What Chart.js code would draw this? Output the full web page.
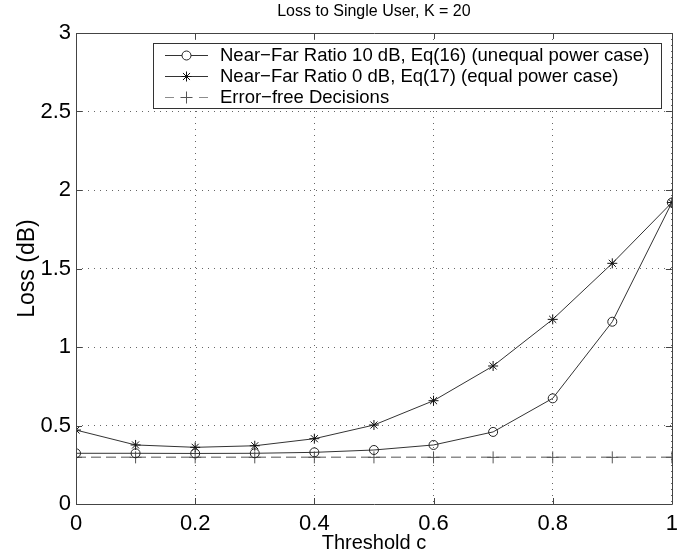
<!DOCTYPE html>
<html>
<head>
<meta charset="utf-8">
<script src="https://cdn.jsdelivr.net/npm/chart.js@4.4.0/dist/chart.umd.min.js"></script>
<style>
  html, body { margin: 0; padding: 0; background: #fff; }
  #wrap { width: 685px; height: 559px; }
</style>
</head>
<body>
<div id="wrap"><canvas id="lossChart" width="685" height="559"></canvas></div>
<script>
const thresholds = [0, 0.1, 0.2, 0.3, 0.4, 0.5, 0.6, 0.7, 0.8, 0.9, 1.0];
const lossUnequal = [0.323, 0.323, 0.322, 0.323, 0.329, 0.344, 0.376, 0.459, 0.673, 1.161, 1.92];
const lossEqual = [0.471, 0.376, 0.361, 0.371, 0.416, 0.503, 0.658, 0.879, 1.176, 1.533, 1.92];
const lossErrorFree = [0.297, 0.297, 0.297, 0.297, 0.297, 0.297, 0.297, 0.297, 0.297, 0.297, 0.297];

const xTicks = [0, 0.2, 0.4, 0.6, 0.8, 1];
const yTicks = [0, 0.5, 1, 1.5, 2, 2.5, 3];

const seriesNames = [
    'Near\u2212Far Ratio 10 dB, Eq(16) (unequal power case)',
    'Near\u2212Far Ratio 0 dB, Eq(17) (equal power case)',
    'Error\u2212free Decisions'
];
const chartTitle = 'Loss to Single User, K = 20';

const FONT = '"Liberation Sans", Arial, Helvetica, sans-serif';

const toPoints = ys => thresholds.map((x, i) => ({ x: x, y: ys[i] }));

// box around the axes, inward ticks, title and the boxed legend (matlab look)
const matlabFrame = {
    id: 'matlabFrame',
    afterDatasetsDraw(chart) {
        const { ctx, chartArea: a, scales } = chart;
        ctx.save();
        ctx.strokeStyle = '#444';
        ctx.lineWidth = 1;
        ctx.setLineDash([]);
        ctx.beginPath();
        ctx.rect(Math.round(a.left) + 0.5, Math.round(a.top) + 0.5,
                 Math.round(a.right - a.left), Math.round(a.bottom - a.top));
        ctx.stroke();
        const len = 6;
        ctx.beginPath();
        xTicks.forEach(v => {
            const px = Math.round(scales.x.getPixelForValue(v)) + 0.5;
            ctx.moveTo(px, a.bottom); ctx.lineTo(px, a.bottom - len);
            ctx.moveTo(px, a.top); ctx.lineTo(px, a.top + len);
        });
        yTicks.forEach(v => {
            const py = Math.round(scales.y.getPixelForValue(v)) + 0.5;
            ctx.moveTo(a.left, py); ctx.lineTo(a.left + len, py);
            ctx.moveTo(a.right, py); ctx.lineTo(a.right - len, py);
        });
        ctx.stroke();
        ctx.restore();
    },
    afterDraw(chart) {
        const { ctx, chartArea: a } = chart;
        ctx.save();
        // title
        ctx.fillStyle = '#000';
        ctx.font = '16px ' + FONT;
        ctx.textAlign = 'center';
        ctx.textBaseline = 'middle';
        ctx.fillText(chartTitle, (a.left + a.right) / 2, 12);

        // legend
        const bx = 153.5, by = 43.5, bw = 508, bh = 65;
        ctx.fillStyle = '#fff';
        ctx.fillRect(bx, by, bw, bh);
        ctx.strokeStyle = '#333';
        ctx.lineWidth = 1;
        ctx.strokeRect(bx, by, bw, bh);

        const rows = [55, 76, 97];
        const x0 = 165, x1 = 208, xm = 186.5;
        chart.data.datasets.forEach((ds, i) => {
            const y = rows[i] + 0.5;
            ctx.strokeStyle = ds.borderColor;
            ctx.lineWidth = 1;
            ctx.setLineDash([]);
            ctx.beginPath();
            if (ds.borderDash) {
                ctx.moveTo(x0, y); ctx.lineTo(x0 + 9, y);
                ctx.moveTo(x1 - 9, y); ctx.lineTo(x1, y);
            } else {
                ctx.moveTo(x0, y); ctx.lineTo(x1, y);
            }
            ctx.stroke();
            ctx.strokeStyle = ds.pointBorderColor;
            Chart.helpers.drawPoint(ctx, {
                pointStyle: ds.pointStyle,
                radius: ds.pointRadius,
                borderWidth: 1
            }, xm, y);
            ctx.fillStyle = '#000';
            ctx.font = '18.5px ' + FONT;
            ctx.textAlign = 'left';
            ctx.textBaseline = 'middle';
            ctx.fillText(seriesNames[i], 220, rows[i] + 1);
        });
        ctx.restore();
    }
};

const ctx = document.getElementById('lossChart').getContext('2d');

new Chart(ctx, {
    type: 'line',
    data: {
        datasets: [
            {
                label: seriesNames[0],
                data: toPoints(lossUnequal),
                borderColor: '#333',
                borderWidth: 1,
                pointStyle: 'circle',
                pointRadius: 4.5,
                pointBorderColor: '#222',
                pointBackgroundColor: 'rgba(0,0,0,0)',
                pointBorderWidth: 1,
                tension: 0
            },
            {
                label: seriesNames[1],
                data: toPoints(lossEqual),
                borderColor: '#333',
                borderWidth: 1,
                pointStyle: 'star',
                pointRadius: 5,
                pointBorderColor: '#111',
                pointBorderWidth: 1,
                tension: 0
            },
            {
                label: seriesNames[2],
                data: toPoints(lossErrorFree),
                borderColor: '#8c8c8c',
                borderWidth: 1.5,
                borderDash: [10, 5],
                pointStyle: 'cross',
                pointRadius: 6,
                pointBorderColor: '#555',
                pointBorderWidth: 1,
                tension: 0
            }
        ]
    },
    options: {
        responsive: false,
        animation: false,
        devicePixelRatio: 1,
        layout: { padding: { top: 33, right: 13, left: 0, bottom: 0 } },
        plugins: {
            legend: { display: false },
            title: { display: false },
            tooltip: { enabled: false }
        },
        scales: {
            x: {
                type: 'linear',
                min: 0,
                max: 1,
                afterBuildTicks: scale => { scale.ticks = xTicks.map(v => ({ value: v })); },
                afterFit: scale => { scale.height = 55; },
                grid: { color: '#666', lineWidth: 1, drawTicks: false },
                border: { display: false, dash: [1, 5] },
                ticks: {
                    color: '#000',
                    padding: 7,
                    font: { family: FONT, size: 22 },
                    maxRotation: 0,
                    callback: v => String(v)
                },
                title: {
                    display: true,
                    text: 'Threshold c',
                    color: '#000',
                    font: { family: FONT, size: 20 },
                    padding: { top: 0, bottom: 4 }
                }
            },
            y: {
                type: 'linear',
                min: 0,
                max: 3,
                afterBuildTicks: scale => { scale.ticks = yTicks.map(v => ({ value: v })); },
                afterFit: scale => { scale.width = 76; },
                grid: { color: '#666', lineWidth: 1, drawTicks: false },
                border: { display: false, dash: [1, 5] },
                ticks: {
                    color: '#000',
                    padding: 5,
                    font: { family: FONT, size: 22 },
                    callback: v => String(v)
                },
                title: {
                    display: true,
                    text: 'Loss (dB)',
                    color: '#000',
                    font: { family: FONT, size: 23 },
                    padding: { top: 14, bottom: 0 }
                }
            }
        }
    },
    plugins: [matlabFrame]
});
</script>
</body>
</html>
